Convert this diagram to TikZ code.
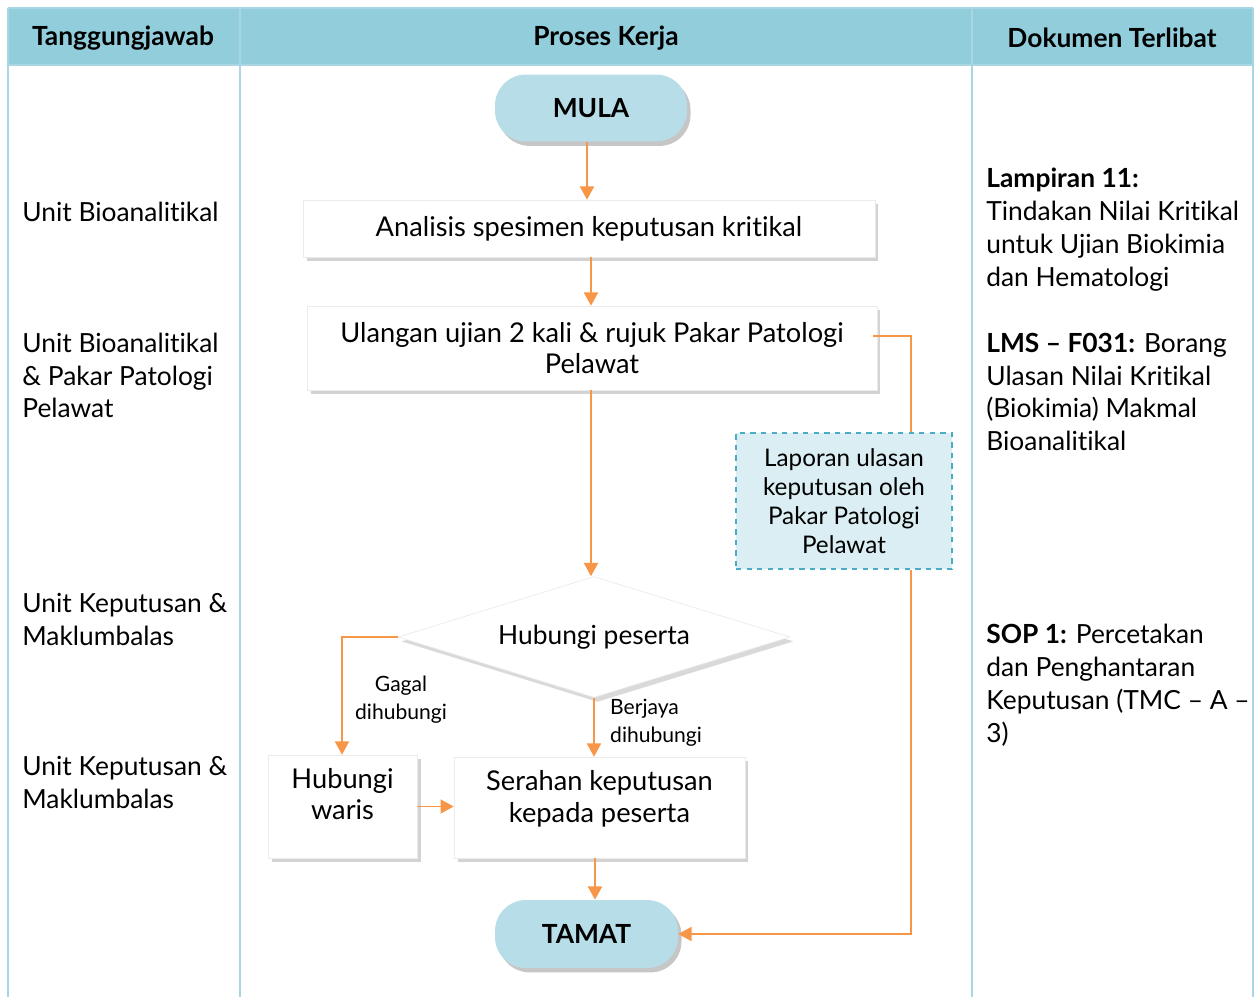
\documentclass[tikz,border=0pt]{standalone}
\usepackage{fontspec}
\setmainfont{Lato}[Ligatures=NoCommon]
\usepackage{tikz}
\usetikzlibrary{shadows}
\usetikzlibrary{shapes.geometric, arrows.meta, positioning}

\definecolor{headblue}{HTML}{92CDDC}
\definecolor{gridblue}{HTML}{A9D6E3}
\definecolor{termblue}{HTML}{B7DEE8}
\definecolor{notefill}{HTML}{DAEEF3}
\definecolor{noteline}{HTML}{4BACC6}
\definecolor{flow}{HTML}{F79646}

\begin{document}
\begin{tikzpicture}[
	x=0.02cm, y=-0.02cm,
	every node/.style={font=\fontsize{15}{18.7}\selectfont},
	grid/.style={draw=gridblue, line width=1.1pt},
	colhead/.style={font=\bfseries\fontsize{15}{16}\selectfont},
	sidetext/.style={anchor=west, align=left, inner sep=0pt},
	terminal/.style={rectangle, rounded corners=0.62cm, fill=termblue, font=\bfseries\fontsize{15}{16}\selectfont,
		drop shadow={opacity=0.45, shadow xshift=2pt, shadow yshift=-2.5pt}},
	process/.style={rectangle, fill=white, draw=black!8, align=center, inner sep=2pt,
		font=\fontsize{15.5}{18}\selectfont,
		drop shadow={opacity=0.35, shadow xshift=2pt, shadow yshift=-2pt}},
	decision/.style={diamond, aspect=3.24, fill=white, draw=black!8, inner sep=0pt, minimum width=7.84cm, minimum height=2.42cm,
		font=\fontsize{15}{16}\selectfont,
		drop shadow={opacity=0.3, shadow xshift=2pt, shadow yshift=-2.5pt}},
	note/.style={rectangle, draw=noteline, fill=notefill, dashed, line width=1pt, align=center,
		font=\fontsize{13.8}{16.4}\selectfont},
	branch/.style={align=center, font=\fontsize{12}{15.9}\selectfont},
	arrow/.style={draw=flow, line width=0.9pt, -{Triangle[length=7.5pt, width=8pt]}},
	link/.style={draw=flow, line width=0.9pt}
	]
	\useasboundingbox (0,0) rectangle (1255,997);
	
	% Table
	\fill[headblue] (8,8) rectangle (1253,65);
	\draw[grid] (8,8) -- (1253,8) (8,65) -- (1253,65);
	\foreach \xx in {8,240,972,1253}
		\draw[grid] (\xx,8) -- (\xx,997);
	\node[colhead] (hTanggung) at (123,38) {Tanggungjawab};
	\node[colhead] (hProses) at (606,38) {Proses Kerja};
	\node[colhead] (hDokumen) at (1112,38) {Dokumen Terlibat};
	
	% Responsibility column
	\node[sidetext] (uBio) at (22,212) {Unit Bioanalitikal};
	\node[sidetext] (uBioPakar) at (22,375.5) {Unit Bioanalitikal\\ \& Pakar Patologi\\ Pelawat};
	\node[sidetext] (uKeputusanA) at (22,619.5) {Unit Keputusan \&\\ Maklumbalas};
	\node[sidetext] (uKeputusanB) at (22,782.5) {Unit Keputusan \&\\ Maklumbalas};
	
	% Document column
	\node[sidetext] (dLampiran) at (986,229.5) {\textbf{Lampiran 11:}\\ Tindakan Nilai Kritikal\\ untuk Ujian Biokimia\\ dan Hematologi};
	\node[sidetext] (dLMS) at (986,392) {\textbf{LMS – F031:} Borang\\ Ulasan Nilai Kritikal\\ (Biokimia) Makmal\\ Bioanalitikal};
	\node[sidetext] (dSOP) at (986,685.5) {\textbf{SOP 1:} Percetakan\\ dan Penghantaran\\ Keputusan (TMC – A –\\ 3)};
	
	% Nodes
	\node[terminal, minimum width=3.84cm, minimum height=1.34cm] (mula) at (591,108) {MULA};
	\node[process, minimum width=11.44cm, minimum height=1.14cm] (analisis) at (589,228.5) {Analisis spesimen keputusan kritikal};
	\node[process, minimum width=11.4cm, minimum height=1.68cm] (ulangan) at (592,348) {Ulangan ujian 2 kali \& rujuk Pakar Patologi\\ Pelawat};
	\node[note, minimum width=4.32cm, minimum height=2.72cm] (laporan) at (844,501) {Laporan ulasan\\ keputusan oleh\\ Pakar Patologi\\ Pelawat};
	\node[decision] (hubungi) at (594,637) {Hubungi peserta};
	\node[process, minimum width=2.98cm, minimum height=2.06cm, text depth=0.5cm] (waris) at (342.5,806.5) {Hubungi\\ waris};
	\node[process, minimum width=5.82cm, minimum height=2.02cm, text depth=0.45cm] (serahan) at (599.5,807.5) {Serahan keputusan\\ kepada peserta};
	\node[terminal, minimum width=3.66cm, minimum height=1.36cm] (tamat) at (586.5,934) {TAMAT};
	
	% Arrows
	\draw[arrow] (mula.south -| 587,0) -- (analisis.north -| 587,0);
	\draw[arrow] (analisis.south -| 591,0) -- (ulangan.north -| 591,0);
	\draw[arrow] (ulangan.south -| 591,0) -- (hubungi.north -| 591,0);
	\draw[link] ([yshift=0.24cm, xshift=-0.08cm]ulangan.east) -| ([xshift=1.34cm]laporan.north);
	\draw[arrow] ([xshift=1.34cm]laporan.south) |- (tamat.east);
	\draw[arrow] (hubungi.west) -| (waris.north -| 342,0);
	\draw[arrow] (hubungi.south) -- (hubungi.south |- serahan.north);
	\draw[arrow] (waris.east) -- (serahan.west |- waris.east);
	\draw[arrow] (serahan.south -| 595,0) -- (tamat.north -| 595,0);
	
	% Labels
	\node[branch] (gagal) at (401,700) {Gagal\\ dihubungi};
	\node[branch, anchor=west, align=left] (berjaya) at (604,723) {Berjaya\\ dihubungi};
\end{tikzpicture}
\end{document}
